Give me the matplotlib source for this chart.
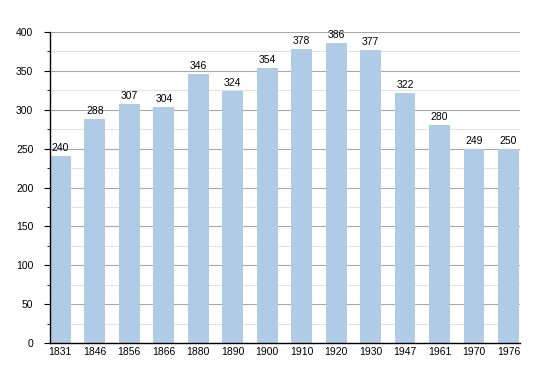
import matplotlib.pyplot as plt
from matplotlib.ticker import MultipleLocator

years = ["1831", "1846", "1856", "1866", "1880", "1890", "1900",
         "1910", "1920", "1930", "1947", "1961", "1970", "1976"]
population = [240, 288, 307, 304, 346, 324, 354, 378, 386, 377, 322, 280, 249, 250]


def main():
    plt.rcParams["font.family"] = ["Liberation Sans", "DejaVu Sans"]
    fig = plt.figure(figsize=(5.5, 3.73), dpi=100)
    ax = fig.add_axes([0.0909, 0.0804, 0.8545, 0.8338])

    x = list(range(len(years)))
    ax.bar(x, population, width=0.6, color="#b0cbe6", zorder=2)
    for xi, v in zip(x, population):
        ax.text(xi, v + 4, str(v), ha="center", va="bottom", fontsize=7.5, zorder=3)

    ax.set_xlim(-0.3, 13.33)
    ax.set_ylim(0, 400)
    ax.set_xticks(x)
    ax.set_xticklabels(years)
    ax.yaxis.set_major_locator(MultipleLocator(50))
    ax.yaxis.set_minor_locator(MultipleLocator(25))
    ax.grid(axis="y", which="major", color="#a8a8a8", linewidth=0.8, zorder=0)
    ax.grid(axis="y", which="minor", color="#e2e2e2", linewidth=0.8, zorder=0)
    ax.set_axisbelow(True)

    for side in ("top", "right"):
        ax.spines[side].set_visible(False)
    ax.spines["left"].set_linewidth(1.0)
    ax.spines["bottom"].set_linewidth(1.0)
    ax.tick_params(axis="y", which="major", length=4, labelsize=7.5, pad=8)
    ax.tick_params(axis="y", which="minor", length=2)
    ax.tick_params(axis="x", length=0, labelsize=7.5, pad=3)

    plt.savefig("out.png")


if __name__ == "__main__":
    main()
